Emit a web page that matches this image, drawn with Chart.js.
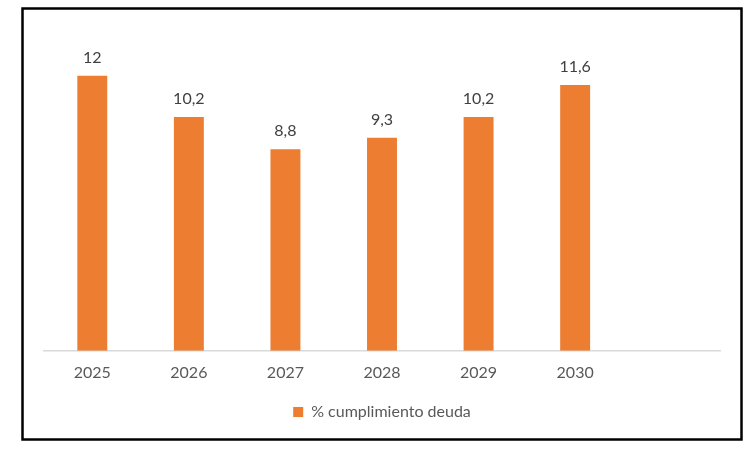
<!DOCTYPE html>
<html>
<head>
<meta charset="utf-8">
<script src="https://cdn.jsdelivr.net/npm/chart.js@4/dist/chart.umd.min.js"></script>
<style>
  html, body { margin: 0; padding: 0; background: #fff; }
  #wrap { width: 753px; height: 465px; position: relative; }
</style>
</head>
<body>
<div id="wrap"><canvas id="chart"></canvas></div>
<script>
const years = ["2025", "2026", "2027", "2028", "2029", "2030", ""];
const deuda = [12, 10.2, 8.8, 9.3, 10.2, 11.6, null];
const seriesName = "% cumplimiento deuda";

// frame around the whole chart
const framePlugin = {
  id: "frame",
  beforeDraw(chart) {
    const ctx = chart.ctx;
    ctx.save();
    ctx.fillStyle = "#fff";
    ctx.fillRect(0, 0, chart.width, chart.height);
    ctx.strokeStyle = "#000";
    ctx.lineWidth = 2.5;
    ctx.strokeRect(22.5, 8.5, 719, 431);
    ctx.restore();
  }
};

// value labels above each bar
const valueLabels = {
  id: "valueLabels",
  afterDatasetsDraw(chart) {
    const ctx = chart.ctx;
    const meta = chart.getDatasetMeta(0);
    ctx.save();
    ctx.font = "16px Lato";
    ctx.fillStyle = "#404040";
    ctx.textAlign = "center";
    ctx.textBaseline = "bottom";
    meta.data.forEach((bar, i) => {
      const v = deuda[i];
      if (v == null) return;
      ctx.fillText(String(v).replace(".", ","), bar.x, bar.y - 10);
    });
    ctx.restore();
  }
};

new Chart(document.getElementById("chart").getContext("2d"), {
  type: "bar",
  data: {
    labels: years,
    datasets: [{
      label: seriesName,
      data: deuda,
      backgroundColor: "#ed7d31",
      borderWidth: 0,
      barPercentage: 0.31,
      categoryPercentage: 1,
    }]
  },
  options: {
    responsive: true,
    maintainAspectRatio: false,
    animation: false,
    layout: { padding: { left: 44, right: 33, top: 30, bottom: 35 } },
    scales: {
      x: {
        grid: { display: false, drawTicks: false },
        border: { display: true, color: "#d9d9d9", width: 1.5 },
        ticks: { color: "#595959", font: { family: "Lato", size: 16 }, padding: 12, maxRotation: 0 },
      },
      y: {
        display: false,
        min: 0,
        max: 14,
      }
    },
    plugins: {
      legend: {
        position: "bottom",
        labels: {
          color: "#595959",
          font: { family: "Lato", size: 16 },
          boxWidth: 10,
          boxHeight: 10,
          padding: 10,
        }
      },
      tooltip: { enabled: false }
    }
  },
  plugins: [framePlugin, valueLabels]
});
</script>
</body>
</html>
